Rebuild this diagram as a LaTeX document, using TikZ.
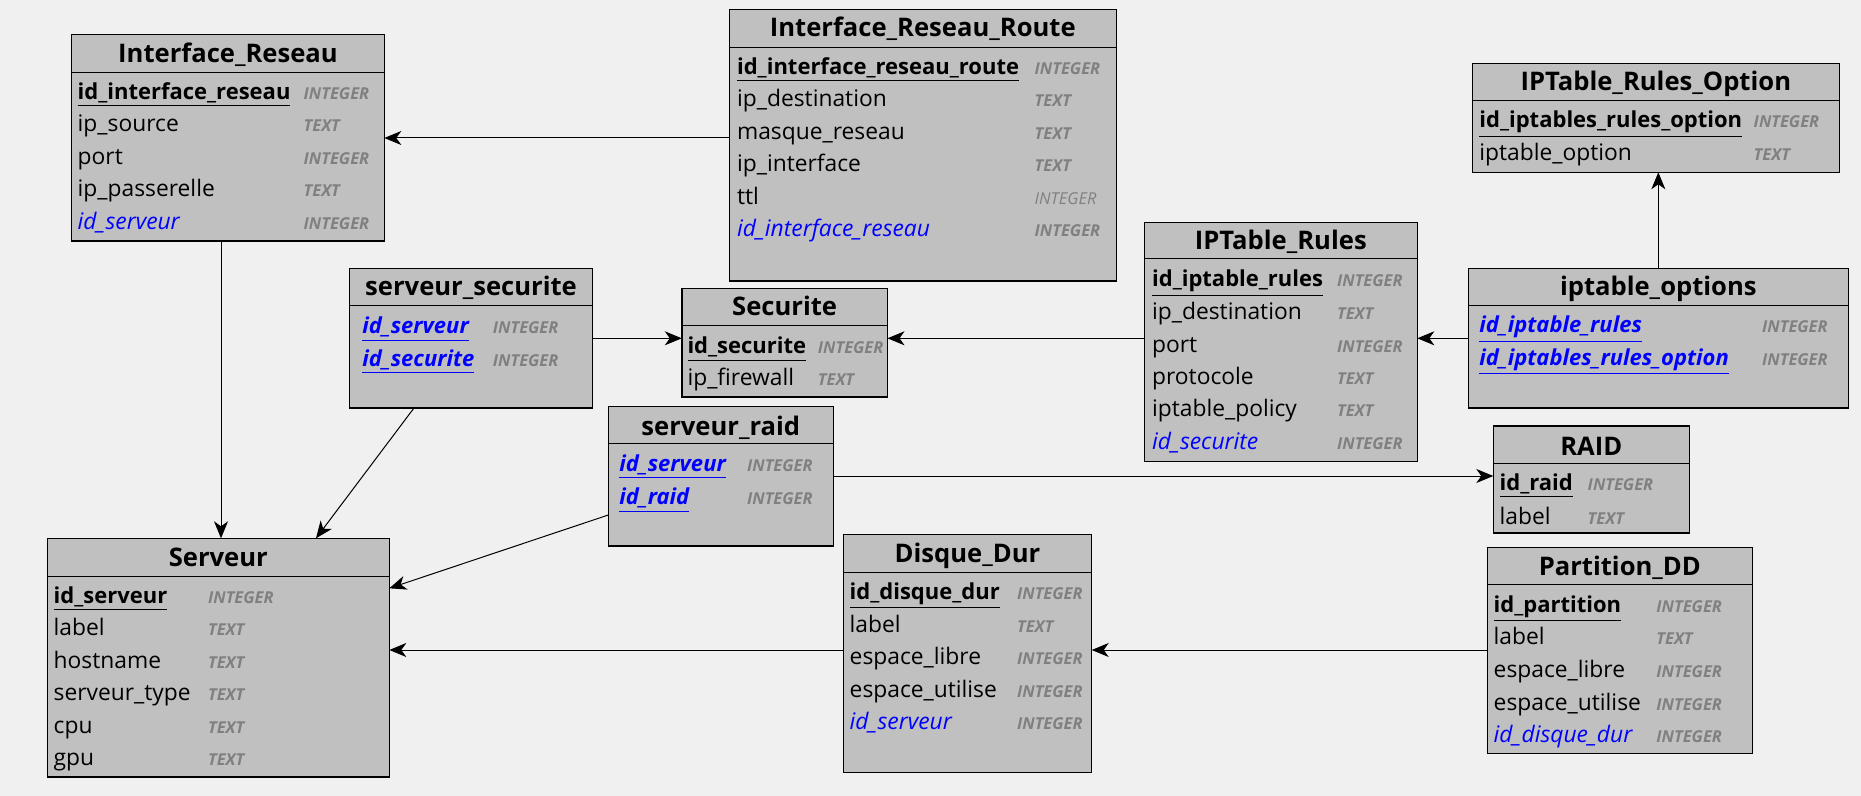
\documentclass[tikz,border=0pt]{standalone}
\usepackage{fontspec}
\setmainfont{Open Sans}
\usetikzlibrary{arrows.meta,fit}

\definecolor{canvas}{HTML}{F0F0F0}
\definecolor{tablefill}{HTML}{C0C0C0}
\definecolor{fkblue}{HTML}{0000FF}
\definecolor{typegray}{HTML}{808080}

\tikzset{
  tbl/.style={draw=black, fill=tablefill, line width=0.75pt, inner sep=0pt, outer sep=0pt},
  hdr/.style={draw=black, line width=0.5pt},
  ttl/.style={font=\fontsize{12.8}{15}\selectfont\bfseries, inner sep=0pt, anchor=base},
  pk/.style={font=\fontsize{11}{13}\selectfont\bfseries, inner sep=0pt, anchor=base west},
  plain/.style={font=\fontsize{11.4}{13}\selectfont, inner sep=0pt, anchor=base west},
  fk/.style={font=\fontsize{11.4}{13}\selectfont\itshape, text=fkblue, inner sep=0pt, anchor=base west},
  jfk/.style={font=\fontsize{11}{13}\selectfont\bfseries\itshape, text=fkblue, inner sep=0pt, anchor=base west},
  ty/.style={font=\fontsize{8.2}{10}\selectfont\bfseries\itshape, text=typegray, inner sep=0pt, anchor=base west},
  tylight/.style={font=\fontsize{8.2}{10}\selectfont\itshape, text=typegray, inner sep=0pt, anchor=base west},
  rel/.style={draw=black, line width=0.5pt, -{Stealth[length=8.5pt,width=7pt,inset=2.5pt]}},
}

% table frame: name, x1, y1, x2, y2, header rule y, title, title baseline
\newcommand{\erbox}[8]{%
  \node[tbl, fit={(#2,#3) (#4,#5)}] (#1) {};
  \draw[hdr] (#1.west |- 0,#6) -- (#1.east |- 0,#6);
  \node[ttl] (#1-title) at ({(#2+#4)/2},#8) {#7};
}
% column row: table, index, x of name, x of type, row centre, name style, name, type style, type
\newcommand{\erow}[9]{%
  \node[#6] (#1-#2) at (#3,{#5+8}) {#7};
  \node[#8] (#1-#2-ty) at (#4,{#5+8}) {#9};
}

\begin{document}
\begin{tikzpicture}[x=0.5pt, y=-0.5pt]
\useasboundingbox (0,0) rectangle (1861,796);
\fill[canvas] (0,0) rectangle (1861,796);

% Interface_Reseau
\erbox{ir}{71.7}{34.3}{384.3}{241}{72.3}{Interface\_Reseau}{62.7}
\erow{ir}{1}{77.3}{303.3}{91.5}{pk}{\underline{id\_interface\_reseau}}{ty}{INTEGER}
\erow{ir}{2}{77.3}{303.3}{124}{plain}{ip\_source}{ty}{TEXT}
\erow{ir}{3}{77.3}{303.3}{156.5}{plain}{port}{ty}{INTEGER}
\erow{ir}{4}{77.3}{303.3}{189}{plain}{ip\_passerelle}{ty}{TEXT}
\erow{ir}{5}{77.3}{303.3}{221.5}{fk}{id\_serveur}{ty}{INTEGER}

% Interface_Reseau_Route
\erbox{irr}{729.3}{9.3}{1116.3}{281}{47.3}{Interface\_Reseau\_Route}{36.7}
\erow{irr}{1}{736.7}{1034.3}{66.5}{pk}{\underline{id\_interface\_reseau\_route}}{ty}{INTEGER}
\erow{irr}{2}{736.7}{1034.3}{99}{plain}{ip\_destination}{ty}{TEXT}
\erow{irr}{3}{736.7}{1034.3}{131.5}{plain}{masque\_reseau}{ty}{TEXT}
\erow{irr}{4}{736.7}{1034.3}{164}{plain}{ip\_interface}{ty}{TEXT}
\erow{irr}{5}{736.7}{1034.3}{196.5}{plain}{ttl}{tylight}{INTEGER}
\erow{irr}{6}{736.7}{1034.3}{229}{fk}{id\_interface\_reseau}{ty}{INTEGER}

% IPTable_Rules_Option
\erbox{ipro}{1472.3}{63.3}{1839.3}{172.3}{101}{IPTable\_Rules\_Option}{91}
\erow{ipro}{1}{1479}{1753.3}{120}{pk}{\underline{id\_iptables\_rules\_option}}{ty}{INTEGER}
\erow{ipro}{2}{1479}{1753.3}{152.7}{plain}{iptable\_option}{ty}{TEXT}

% serveur_securite
\erbox{ss}{349.6}{268.3}{592.5}{408}{306}{serveur\_securite}{296}
\erow{ss}{1}{362}{492.5}{325.7}{jfk}{\underline{id\_serveur}}{ty}{INTEGER}
\erow{ss}{2}{362}{492.5}{358.3}{jfk}{\underline{id\_securite}}{ty}{INTEGER}

% Securite
\erbox{sec}{681.8}{288.3}{887.5}{397}{326}{Securite}{316}
\erow{sec}{1}{687.1}{817.5}{345.7}{pk}{\underline{id\_securite}}{ty}{INTEGER}
\erow{sec}{2}{687.1}{817.5}{377.3}{plain}{ip\_firewall}{ty}{TEXT}

% IPTable_Rules
\erbox{ipr}{1144.3}{222.3}{1417.3}{461.7}{259}{IPTable\_Rules}{250}
\erow{ipr}{1}{1151.7}{1336.7}{279}{pk}{\underline{id\_iptable\_rules}}{ty}{INTEGER}
\erow{ipr}{2}{1151.7}{1336.7}{311.7}{plain}{ip\_destination}{ty}{TEXT}
\erow{ipr}{3}{1151.7}{1336.7}{344}{plain}{port}{ty}{INTEGER}
\erow{ipr}{4}{1151.7}{1336.7}{376.7}{plain}{protocole}{ty}{TEXT}
\erow{ipr}{5}{1151.7}{1336.7}{408.3}{plain}{iptable\_policy}{ty}{TEXT}
\erow{ipr}{6}{1151.7}{1336.7}{441.7}{fk}{id\_securite}{ty}{INTEGER}

% iptable_options
\erbox{ipo}{1468.3}{268.3}{1848.3}{408}{306}{iptable\_options}{296}
\erow{ipo}{1}{1479}{1761.7}{325}{jfk}{\underline{id\_iptable\_rules}}{ty}{INTEGER}
\erow{ipo}{2}{1479}{1761.7}{357.7}{jfk}{\underline{id\_iptables\_rules\_option}}{ty}{INTEGER}

% Serveur
\erbox{srv}{47.3}{538.3}{389.3}{777}{576.3}{Serveur}{566}
\erow{srv}{1}{53.3}{207.7}{595}{pk}{\underline{id\_serveur}}{ty}{INTEGER}
\erow{srv}{2}{53.3}{207.7}{627.7}{plain}{label}{ty}{TEXT}
\erow{srv}{3}{53.3}{207.7}{660}{plain}{hostname}{ty}{TEXT}
\erow{srv}{4}{53.3}{207.7}{692.7}{plain}{serveur\_type}{ty}{TEXT}
\erow{srv}{5}{53.3}{207.7}{725}{plain}{cpu}{ty}{TEXT}
\erow{srv}{6}{53.3}{207.7}{757.7}{plain}{gpu}{ty}{TEXT}

% serveur_raid
\erbox{sr}{608.3}{406.7}{833.3}{546}{443.3}{serveur\_raid}{435}
\erow{sr}{1}{619}{746.7}{463.3}{jfk}{\underline{id\_serveur}}{ty}{INTEGER}
\erow{sr}{2}{619}{746.7}{496.7}{jfk}{\underline{id\_raid}}{ty}{INTEGER}

% Disque_Dur
\erbox{dd}{843.3}{534.3}{1091.7}{772.7}{572.7}{Disque\_Dur}{562.7}
\erow{dd}{1}{849.3}{1016.7}{591.7}{pk}{\underline{id\_disque\_dur}}{ty}{INTEGER}
\erow{dd}{2}{849.3}{1016.7}{624.3}{plain}{label}{ty}{TEXT}
\erow{dd}{3}{849.3}{1016.7}{656.7}{plain}{espace\_libre}{ty}{INTEGER}
\erow{dd}{4}{849.3}{1016.7}{689.3}{plain}{espace\_utilise}{ty}{INTEGER}
\erow{dd}{5}{849.3}{1016.7}{721.7}{fk}{id\_serveur}{ty}{INTEGER}

% RAID
\erbox{raid}{1493.3}{426}{1689.3}{533}{463.3}{RAID}{455}
\erow{raid}{1}{1499.3}{1587.3}{482.3}{pk}{\underline{id\_raid}}{ty}{INTEGER}
\erow{raid}{2}{1499.3}{1587.3}{516.7}{plain}{label}{ty}{TEXT}

% Partition_DD
\erbox{pdd}{1487.3}{547.3}{1752.3}{753.3}{584.3}{Partition\_DD}{575}
\erow{pdd}{1}{1493.3}{1656}{604}{pk}{\underline{id\_partition}}{ty}{INTEGER}
\erow{pdd}{2}{1493.3}{1656}{636.7}{plain}{label}{ty}{TEXT}
\erow{pdd}{3}{1493.3}{1656}{669}{plain}{espace\_libre}{ty}{INTEGER}
\erow{pdd}{4}{1493.3}{1656}{702.3}{plain}{espace\_utilise}{ty}{INTEGER}
\erow{pdd}{5}{1493.3}{1656}{734.3}{fk}{id\_disque\_dur}{ty}{INTEGER}

% foreign-key relations
\draw[rel] (irr.west |- 0,138) -- (ir.east |- 0,138);
\draw[rel] (ir.south -| 221,0) -- (srv.north -| 221,0);
\draw[rel] (ss.south -| 414,0) -- (srv.north -| 316,0);
\draw[rel] (ss.east |- 0,338.3) -- (sec.west |- 0,338.3);
\draw[rel] (ipr.west |- 0,338.3) -- (sec.east |- 0,338.3);
\draw[rel] (ipo.west |- 0,338.3) -- (ipr.east |- 0,338.3);
\draw[rel] (ipo.north -| 1658.3,0) -- (ipro.south -| 1658.3,0);
\draw[rel] (sr.east |- 0,476) -- (raid.west |- 0,476);
\draw[rel] (sr.west |- 0,515) -- (srv.east |- 0,588.3);
\draw[rel] (dd.west |- 0,650) -- (srv.east |- 0,650);
\draw[rel] (pdd.west |- 0,650) -- (dd.east |- 0,650);
\end{tikzpicture}
\end{document}
